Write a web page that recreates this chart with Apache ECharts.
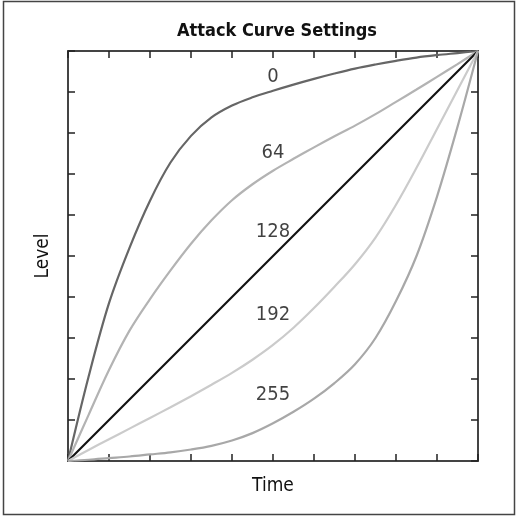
<!DOCTYPE html>
<html>
<head>
<meta charset="utf-8">
<script src="https://cdn.jsdelivr.net/npm/echarts@6/dist/echarts.min.js"></script>
<style>
  html, body { margin: 0; padding: 0; background: #fff; }
  #chart { width: 518px; height: 518px; }
</style>
</head>
<body>
<div id="chart"></div>
<script>
// values (x = time 0..1, y = level 0..1)
var curve0 = [[0, 0], [0.05, 0.205], [0.1, 0.385], [0.15, 0.52], [0.2, 0.635], [0.25, 0.728],
  [0.3, 0.793], [0.35, 0.838], [0.4, 0.867], [0.45, 0.887], [0.5, 0.903], [0.55, 0.918],
  [0.6, 0.932], [0.65, 0.945], [0.7, 0.957], [0.75, 0.967], [0.8, 0.976], [0.85, 0.984],
  [0.9, 0.99], [0.95, 0.995], [1, 1]];
var curve64 = [[0, 0], [0.05, 0.112], [0.1, 0.222], [0.15, 0.318], [0.2, 0.395], [0.25, 0.465],
  [0.3, 0.53], [0.35, 0.587], [0.4, 0.636], [0.45, 0.675], [0.5, 0.708], [0.55, 0.737],
  [0.6, 0.765], [0.65, 0.792], [0.7, 0.818], [0.75, 0.846], [0.8, 0.876], [0.85, 0.906],
  [0.9, 0.937], [0.95, 0.968], [1, 1]];
var curve128 = [[0, 0], [1, 1]];
var curve192 = [[0, 0], [0.05, 0.027], [0.1, 0.053], [0.15, 0.079], [0.2, 0.105], [0.25, 0.131],
  [0.3, 0.158], [0.35, 0.186], [0.4, 0.215], [0.45, 0.247], [0.5, 0.283], [0.55, 0.325],
  [0.6, 0.373], [0.65, 0.425], [0.7, 0.48], [0.75, 0.545], [0.8, 0.625], [0.85, 0.715],
  [0.9, 0.81], [0.95, 0.905], [1, 1]];
var curve255 = [[0, 0], [0.05, 0.003], [0.1, 0.007], [0.15, 0.011], [0.2, 0.016], [0.25, 0.021],
  [0.3, 0.028], [0.35, 0.037], [0.4, 0.05], [0.45, 0.068], [0.5, 0.092], [0.55, 0.12],
  [0.6, 0.152], [0.65, 0.19], [0.7, 0.236], [0.75, 0.3], [0.8, 0.39], [0.85, 0.5],
  [0.9, 0.645], [0.95, 0.815], [1, 1]];
var curveNames = ["0", "64", "128", "192", "255"];
var labelPos = [[0.5, 0.936], [0.5, 0.752], [0.5, 0.558], [0.5, 0.356], [0.5, 0.162]];

var chart = echarts.init(document.getElementById("chart"));
var font = "'DejaVu Sans Condensed', 'DejaVu Sans', sans-serif";
var frame = { show: true, onZero: false, lineStyle: { color: "#444", width: 2 } };
var ticks = { show: true, inside: true, length: 7, lineStyle: { color: "#222", width: 1.5 } };

function line(data, color) {
  return {
    type: "line",
    data: data,
    smooth: 0.35,
    symbol: "none",
    lineStyle: { color: color, width: 2.2 },
    z: 3,
  };
}

var option = {
  animation: false,
  title: {
    text: "Attack Curve Settings",
    left: 272,
    textAlign: "center",
    top: 17,
    textStyle: { fontFamily: font, fontSize: 18, fontWeight: "bold", color: "#111" },
  },
  graphic: [
    {
      type: "rect",
      shape: { x: 3.5, y: 1.5, width: 511, height: 513 },
      style: { fill: "none", stroke: "#444", lineWidth: 1.5 },
      silent: true,
    },
  ],
  grid: { left: 68, right: 40, top: 51, bottom: 57 },
  xAxis: [
    {
      type: "value", min: 0, max: 1, interval: 0.1,
      name: "Time", nameLocation: "middle", nameGap: 16,
      nameTextStyle: { fontFamily: font, fontSize: 19, color: "#111" },
      axisLine: frame, axisTick: ticks, axisLabel: { show: false }, splitLine: { show: false },
    },
    {
      type: "value", min: 0, max: 1, interval: 0.1, position: "top",
      axisLine: frame, axisTick: ticks, axisLabel: { show: false }, splitLine: { show: false },
    },
  ],
  yAxis: [
    {
      type: "value", min: 0, max: 1, interval: 0.1,
      name: "Level", nameLocation: "middle", nameGap: 15, nameRotate: 90,
      nameTextStyle: { fontFamily: font, fontSize: 19, color: "#111" },
      axisLine: frame, axisTick: ticks, axisLabel: { show: false }, splitLine: { show: false },
    },
    {
      type: "value", min: 0, max: 1, interval: 0.1, position: "right",
      axisLine: frame, axisTick: ticks, axisLabel: { show: false }, splitLine: { show: false },
    },
  ],
  series: [
    line(curve0, "#666"),
    line(curve64, "#b3b3b3"),
    line(curve128, "#111"),
    line(curve192, "#cbcbcb"),
    line(curve255, "#a8a8a8"),
    {
      type: "scatter",
      symbolSize: 0,
      z: 5,
      data: labelPos.map(function (p, i) {
        return { value: p, name: curveNames[i] };
      }),
      label: {
        show: true,
        position: "inside",
        formatter: "{b}",
        fontFamily: font,
        fontSize: 20,
        color: "#111",
      },
    },
  ],
};
chart.setOption(option);
</script>
</body>
</html>
